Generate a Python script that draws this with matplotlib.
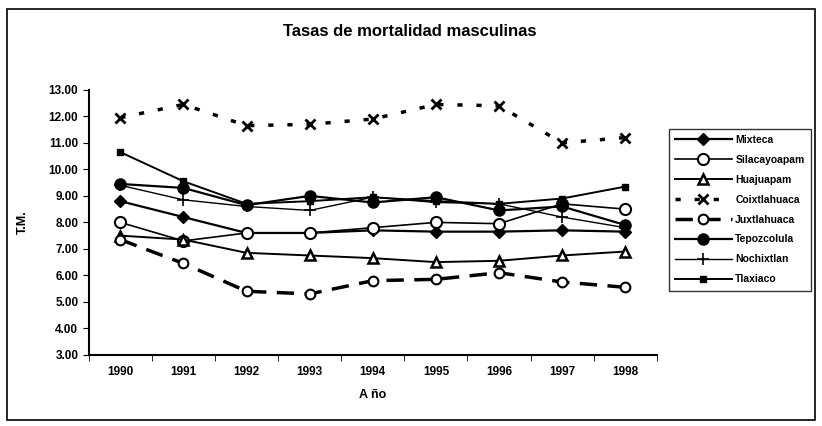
import matplotlib
matplotlib.use("Agg")
import matplotlib.pyplot as plt
from matplotlib.patches import Rectangle

plt.rcParams['font.family'] = ['Liberation Sans', 'DejaVu Sans']

years = ["1990", "1991", "1992", "1993", "1994", "1995", "1996", "1997", "1998"]

mixteca = [8.80, 8.20, 7.60, 7.60, 7.70, 7.65, 7.65, 7.70, 7.65]
silacayoapam = [8.00, 7.30, 7.60, 7.60, 7.80, 8.00, 7.95, 8.70, 8.50]
huajuapam = [7.50, 7.35, 6.85, 6.75, 6.65, 6.50, 6.55, 6.75, 6.90]
coixtlahuaca = [11.95, 12.45, 11.65, 11.70, 11.90, 12.45, 12.40, 11.00, 11.20]
juxtlahuaca = [7.35, 6.45, 5.40, 5.30, 5.80, 5.85, 6.10, 5.75, 5.55]
tepozcolula = [9.45, 9.30, 8.65, 9.00, 8.75, 8.95, 8.45, 8.60, 7.90]
nochixtlan = [9.40, 8.85, 8.60, 8.45, 8.95, 8.75, 8.70, 8.20, 7.80]
tlaxiaco = [10.65, 9.55, 8.70, 8.80, 8.95, 8.80, 8.70, 8.90, 9.35]

x = list(range(len(years)))

fig = plt.figure(figsize=(8.22, 4.26), dpi=100)
ax = fig.add_axes([0.108, 0.167, 0.691, 0.622])

ax.plot(x, mixteca, color="black", lw=1.6, marker="D", ms=6, label="Mixteca")
ax.plot(x, silacayoapam, color="black", lw=1.2, marker="o", ms=8, mfc="white", mew=1.5, label="Silacayoapam")
ax.plot(x, huajuapam, color="black", lw=1.4, marker="^", ms=7, mfc="white", mew=1.8, label="Huajuapam")
ax.plot(x, coixtlahuaca, color="black", lw=2.5, ls=(0, (1.5, 4)), marker="x", ms=7, mew=2, label="Coixtlahuaca")
ax.plot(x, juxtlahuaca, color="black", lw=2.5, ls=(0, (5, 3)), marker="o", ms=7, mfc="white", mew=1.5, label="Juxtlahuaca")
ax.plot(x, tepozcolula, color="black", lw=1.6, marker="o", ms=8, label="Tepozcolula")
ax.plot(x, nochixtlan, color="black", lw=1.0, marker="+", ms=9, mew=1.2, label="Nochixtlan")
ax.plot(x, tlaxiaco, color="black", lw=1.4, marker="s", ms=4, label="Tlaxiaco")

ax.set_xlim(-0.5, len(years) - 0.5)
ax.set_ylim(3, 13)
ax.set_xticks(x)
ax.set_xticklabels(years)
ax.set_xticks([i - 0.5 for i in range(len(years) + 1)], minor=True)
ax.tick_params(axis="x", which="major", length=0, pad=8)
ax.tick_params(axis="x", which="minor", length=4, direction="out")
ax.set_yticks(range(3, 14))
ax.set_yticklabels(["%.2f" % v for v in range(3, 14)])
ax.tick_params(axis="y", length=4, direction="out")
for lab in ax.get_xticklabels() + ax.get_yticklabels():
    lab.set_fontsize(8.5)
    lab.set_fontweight("bold")

ax.spines["top"].set_visible(False)
ax.spines["right"].set_visible(False)
ax.spines["left"].set_linewidth(1.5)
ax.spines["bottom"].set_linewidth(1.5)

ax.set_xlabel("A ño", fontsize=9, fontweight="bold", labelpad=8)
ax.set_ylabel("T.M.", fontsize=9, fontweight="bold", labelpad=14)

fig.text(0.499, 0.925, "Tasas de mortalidad masculinas", ha="center", va="center",
         fontsize=12, fontweight="bold")

leg = fig.legend(loc="upper left", bbox_to_anchor=(0.807, 0.71), fontsize=7.5,
                 frameon=True, fancybox=False, edgecolor="black", handlelength=5.5,
                 labelspacing=0.95, borderpad=0.6, handletextpad=0.3)
leg.get_frame().set_linewidth(1.0)
for t in leg.get_texts():
    t.set_fontweight("bold")

fig.patches.append(Rectangle((0.008, 0.015), 0.984, 0.965, transform=fig.transFigure,
                             fill=False, edgecolor="black", lw=1.2))

fig.savefig("out.png", dpi=100)
